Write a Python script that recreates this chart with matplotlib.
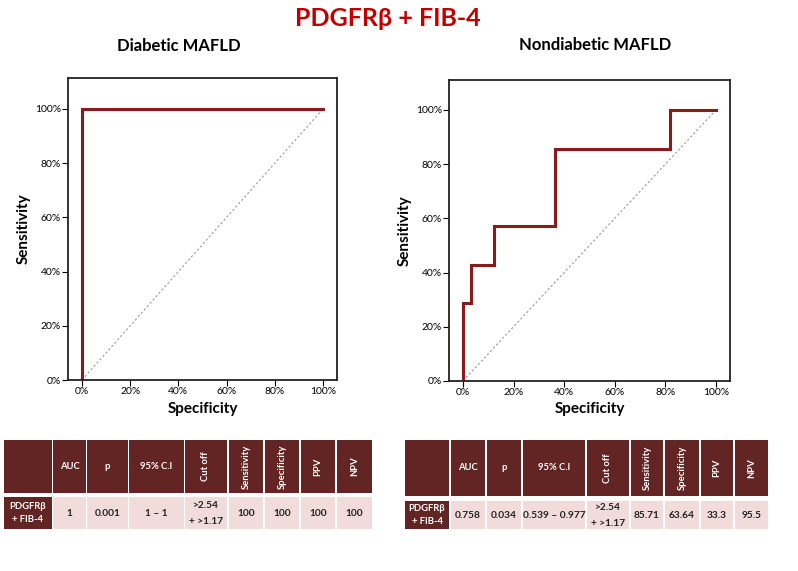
import matplotlib
matplotlib.use("Agg")
import matplotlib.pyplot as plt
from matplotlib.patches import Rectangle
from matplotlib.ticker import PercentFormatter

plt.rcParams['font.family'] = ['Lato', 'DejaVu Sans']

# ROC curves (1 - specificity, sensitivity), in %
diab_fpr = [0, 0, 100]
diab_tpr = [0, 100, 100]
nondiab_fpr = [0, 0, 3.0, 3.0, 12.1, 12.1, 36.4, 36.4, 81.8, 81.8, 100]
nondiab_tpr = [0, 28.6, 28.6, 42.9, 42.9, 57.1, 57.1, 85.7, 85.7, 100, 100]

ticks = [0, 20, 40, 60, 80, 100]

# table contents
headers = ["", "AUC", "p", "95% C.I", "Cut off", "Sensitivity", "Specificity", "PPV", "NPV"]
rotated = [False, False, False, False, True, True, True, True, True]
row_label = "PDGFRβ\n+ FIB-4"
diab_row = ["1", "0.001", "1 – 1", ">2.54\n+ >1.17", "100", "100", "100", "100"]
nondiab_row = ["0.758", "0.034", "0.539 – 0.977", ">2.54\n+ >1.17", "85.71", "63.64", "33.3", "95.5"]

W, H = 798, 571
maroon = "#632523"
pink = "#f2dcdb"
line_red = "#8b1a1a"

fig = plt.figure(figsize=(W / 100, H / 100), dpi=100)


def px_axes(l, t, r, b):
    return fig.add_axes([l / W, 1 - b / H, (r - l) / W, (b - t) / H])


def roc(ax, fpr, tpr, xlim, ylim):
    ax.plot([0, 100], [0, 100], color="#999999", lw=0.8, ls=(0, (2, 2)))
    ax.plot(fpr, tpr, color=line_red, lw=2.2, solid_joinstyle="miter")
    ax.set_xlim(*xlim)
    ax.set_ylim(*ylim)
    ax.set_xticks(ticks)
    ax.set_yticks(ticks)
    ax.xaxis.set_major_formatter(PercentFormatter(decimals=0))
    ax.yaxis.set_major_formatter(PercentFormatter(decimals=0))
    ax.tick_params(labelsize=7.5, length=4, width=0.8, pad=1)
    for s in ax.spines.values():
        s.set_linewidth(1.3)
        s.set_color("#222222")
    ax.set_xlabel("Specificity", fontsize=11, fontweight="bold", labelpad=4)
    ax.set_ylabel("Sensitivity", fontsize=11, fontweight="bold", labelpad=3)


ax1 = px_axes(68, 78, 337, 380)
roc(ax1, diab_fpr, diab_tpr, (-5.8, 105.8), (0, 111.4))
ax2 = px_axes(449, 80, 730, 381)
roc(ax2, nondiab_fpr, nondiab_tpr, (-5.5, 105.5), (0, 111))

# overlay in pixel coordinates for titles and tables
ov = fig.add_axes([0, 0, 1, 1])
ov.set_xlim(0, W)
ov.set_ylim(H, 0)
ov.axis("off")
ov.patch.set_alpha(0)

ov.text(388, 18, "PDGFRβ + FIB-4", color="#c00000", fontsize=18, fontweight="bold",
        ha="center", va="center")
ov.text(179, 46, "Diabetic MAFLD", fontsize=12, fontweight="bold", ha="center", va="center")
ov.text(595, 45, "Nondiabetic MAFLD", fontsize=12, fontweight="bold", ha="center", va="center")


def table(cols, head_tb, row_tb, values):
    ht, hb = head_tb
    rt, rb = row_tb
    for i, (x0, x1) in enumerate(cols):
        ov.add_patch(Rectangle((x0, ht), x1 - x0, hb - ht, color=maroon, lw=0))
        if headers[i]:
            ov.text((x0 + x1) / 2, (ht + hb) / 2, headers[i], color="white", fontsize=6.8,
                    fontweight="bold", ha="center", va="center",
                    rotation=90 if rotated[i] else 0)
        fc = maroon if i == 0 else pink
        ov.add_patch(Rectangle((x0, rt), x1 - x0, rb - rt, color=fc, lw=0))
        txt = row_label if i == 0 else values[i - 1]
        ov.text((x0 + x1) / 2, (rt + rb) / 2, txt, color="white" if i == 0 else "#222222",
                fontsize=6.8 if i == 0 else 7.3, fontweight="bold", ha="center", va="center",
                linespacing=1.5 if i == 0 else 2.0)


cols_left = [(4, 52), (53, 86), (87, 128), (129, 184), (185, 227), (229, 263),
             (265, 299), (301, 335), (337, 372)]
cols_right = [(405, 449), (451, 485), (487, 521), (523, 585), (587, 629), (631, 663),
              (665, 699), (701, 733), (735, 768)]
table(cols_left, (440, 493), (497, 529), diab_row)
table(cols_right, (440, 496), (501, 529), nondiab_row)

fig.savefig("out.png", dpi=100)
